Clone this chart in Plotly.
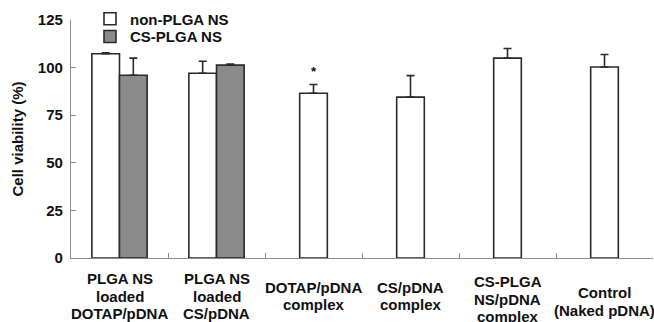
import plotly.graph_objects as go

categories = ["PLGA NS<br>loaded<br>DOTAP/pDNA", "PLGA NS<br>loaded<br>CS/pDNA",
              "DOTAP/pDNA<br>complex", "CS/pDNA<br>complex",
              "CS-PLGA<br>NS/pDNA<br>complex", "Control<br>(Naked pDNA)"]
non_plga = [107.3, 97.0, 86.5, 84.5, 105.0, 100.3]
non_plga_err = [0.5, 6.3, 4.6, 11.3, 5.0, 6.6]
cs_plga = [96.0, 101.3]
cs_plga_err = [9.0, 0.5]
yticks = [0, 25, 50, 75, 100, 125]

FONT = "Arial, Liberation Sans, sans-serif"
W = 0.285
cat_ids = list(range(len(categories)))

fig = go.Figure()
fig.add_trace(go.Bar(
    name="non-PLGA NS", x=cat_ids, y=non_plga, legend="legend",
    offset=[-W, -W, -W / 2, -W / 2, -W / 2, -W / 2], width=W,
    marker=dict(color="white", line=dict(color="#2a2a2a", width=1.6)),
    error_y=dict(type="data", symmetric=False, array=non_plga_err,
                 arrayminus=[0] * 6, color="#2a2a2a", thickness=1.6, width=4),
))
fig.add_trace(go.Bar(
    name="CS-PLGA NS", x=cat_ids[:2], y=cs_plga, offset=0, width=W, legend="legend2",
    marker=dict(color="#8a8a8a", line=dict(color="#2a2a2a", width=1.6)),
    error_y=dict(type="data", symmetric=False, array=cs_plga_err,
                 arrayminus=[0] * 2, color="#2a2a2a", thickness=1.6, width=4),
))

# category labels (multi-line) placed below the axis
first_line_px = [278.7, 278.7, 287.0, 287.0, 281.7, 292.7]
line_gap = 17.5
for i, lab in enumerate(categories):
    for j, line in enumerate(lab.split("<br>")):
        fig.add_annotation(x=i, xref="x", y=0, yref="paper", text=line,
                           showarrow=False, yanchor="middle", xanchor="center",
                           yshift=-(first_line_px[i] + j * line_gap - 258),
                           font=dict(family=FONT, size=15, color="#111", weight="bold"))

# significance marker
fig.add_annotation(x=2, xref="x", y=non_plga[2] + non_plga_err[2], yref="y",
                   text="*", showarrow=False, yanchor="bottom", yshift=4,
                   font=dict(family=FONT, size=13, color="#111", weight="bold"))

leg_common = dict(x=(90 - 71) / 582, xanchor="left", yanchor="middle",
                  bgcolor="rgba(0,0,0,0)",
                  font=dict(family=FONT, size=15, color="#111", weight="bold"))

fig.update_layout(
    width=654, height=322,
    margin=dict(l=71, r=1, t=20, b=64, autoexpand=False),
    paper_bgcolor="white", plot_bgcolor="white",
    barmode="overlay",
    showlegend=True,
    legend=dict(y=(258 - 19) / 238, **leg_common),
    legend2=dict(y=(258 - 36.7) / 238, **leg_common),
    xaxis=dict(type="linear", range=[-0.5, 5.5], showticklabels=False,
               tickvals=[0.5, 1.5, 2.5, 3.5, 4.5, 5.5],
               ticks="inside", ticklen=5, tickcolor="#8c8c8c", tickwidth=1,
               showline=True, linecolor="#8c8c8c", linewidth=1.3,
               showgrid=False, zeroline=False, automargin=False),
    yaxis=dict(range=[0, 125], tickvals=yticks, ticks="inside", ticklen=5,
               tickcolor="#8c8c8c", showline=True, linecolor="#8c8c8c", linewidth=1.3,
               showgrid=False, zeroline=False, automargin=False, ticklabelstandoff=4,
               tickfont=dict(family=FONT, size=15, color="#111", weight="bold"),
               title=dict(text="Cell viability (%)", standoff=10,
                          font=dict(family=FONT, size=15, color="#111", weight="bold"))),
)

fig.write_html("out.html", config={"displayModeBar": False},
               post_script="document.body.style.margin='0';document.body.style.padding='0';")
